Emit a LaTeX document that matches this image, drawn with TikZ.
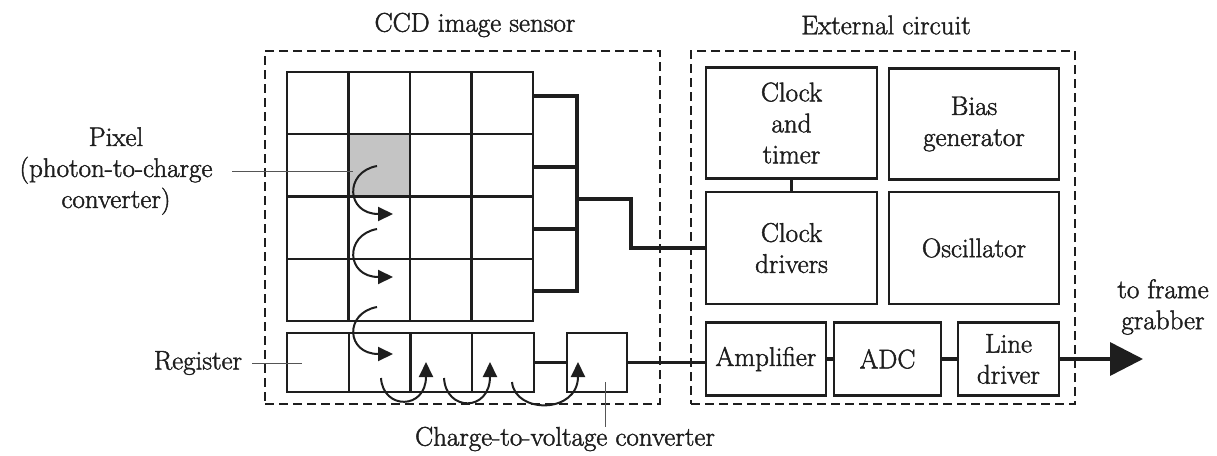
\documentclass[tikz,border=0pt]{standalone}
\usepackage{fontspec}
\setmainfont{Latin Modern Roman}[FakeBold=1.6]
\usetikzlibrary{arrows.meta,calc}
\definecolor{ink}{HTML}{1E1E1E}
\definecolor{pixgray}{HTML}{C4C4C4}
\definecolor{lead}{HTML}{555555}
\begin{document}
\begin{tikzpicture}[x=1pt,y=-1pt,
  every node/.style={font=\fontsize{27}{31}\selectfont, text=ink},
  box/.style={draw=ink, line width=2.2pt, rectangle, align=center, inner sep=0pt},
  cell/.style={draw=ink, line width=2.2pt, minimum width=61.5pt, minimum height=62.25pt, inner sep=0pt},
  rcell/.style={draw=ink, line width=2.2pt, minimum width=61.75pt, minimum height=59pt, inner sep=0pt},
  dbox/.style={draw=ink, line width=2pt, dash pattern=on 9pt off 5pt, inner sep=0pt},
  lbl/.style={align=center, inner sep=0pt},
  bus/.style={draw=ink, line width=3.5pt},
  carr/.style={draw=ink, line width=2pt, -{Triangle[length=15pt,width=14pt]}},
  leader/.style={draw=lead, line width=1pt}]
\useasboundingbox (0,0) rectangle (1217,455);
% dashed enclosures
\node[dbox, minimum width=395pt, minimum height=353pt] (ccdbox) at (462.5,227.5) {};
\node[dbox, minimum width=384pt, minimum height=353pt] (extbox) at (883,227.5) {};
\node[lbl] (t1) at (475,25) {CCD image sensor};
\node[lbl] (t2) at (886,25) {External circuit};
% pixel array
\foreach \i in {1,...,4}{\foreach \j in {1,...,4}{%
  \ifnum\i\j=22 \def\fc{pixgray}\else\def\fc{white}\fi
  \node[cell, fill=\fc] (p\i\j) at ({287+61.5*(\i-0.5)},{72+62.25*(\j-0.5)}) {};
}}
% register
\foreach \i in {1,...,4}{%
  \node[rcell] (r\i) at ({287+61.75*(\i-0.5)},362.5) {};
}
\node[box, minimum width=60pt, minimum height=59pt] (conv) at (597,362.5) {};
% external circuit boxes
\node[box, minimum width=171pt, minimum height=111pt] (ct) at (791.5,123) {Clock\\and\\timer};
\node[box, minimum width=170pt, minimum height=111pt] (bg) at (974,124) {Bias\\generator};
\node[box, minimum width=171pt, minimum height=112pt] (cd) at (791.5,248) {Clock\\drivers};
\node[box, minimum width=170pt, minimum height=112pt] (osc) at (974,248) {Oscillator};
\node[box, minimum width=120pt, minimum height=73pt] (amp) at (766,359) {Amplifier};
\node[box, minimum width=107pt, minimum height=73pt] (adc) at (887.5,359) {ADC};
\node[box, minimum width=101pt, minimum height=73pt] (ld) at (1008.5,359) {Line\\driver};
% bus from the array to the clock drivers
\coordinate (b1) at (577,96);
\coordinate (b4) at (577,291);
\coordinate (bm) at (577,199);
\coordinate (bj) at (631,199);
\draw[bus] (p41.east |- b1) -- (b1) -- (b4) -- (p44.east |- b4);
\draw[bus] (p42.east |- 0,167) -- (577,167);
\draw[bus] (p43.east |- 0,229) -- (577,229);
\draw[bus] (bm) -- (bj) |- (cd.west);
\draw[bus] (ct.south) -- (cd.north);
% signal chain
\draw[bus] (r4.east) -- (conv.west);
\draw[bus] (conv.east) -- (conv.east -| amp.west);
\draw[bus] (amp.east) -- (adc.west);
\draw[bus] (adc.east) -- (ld.west);
\coordinate (out) at (1143,359);
\draw[draw=ink, line width=3.5pt, -{Triangle[length=33pt,width=33pt]}] (ld.east) -- (out);
\node[lbl] (fg) at (1163,307) {to frame\\grabber};
% charge transfer arrows
\draw[carr] (377,166) .. controls (344,172) and (346,214) .. (393,214);
\draw[carr] (377,229) .. controls (344,235) and (346,277) .. (393,277);
\draw[carr] (377,307) .. controls (344,313) and (346,354) .. (393,354);
\draw[carr] (381,378) .. controls (383,410) and (426,410) .. (426,362);
\draw[carr] (444,378) .. controls (446,412) and (490,412) .. (490,362);
\draw[carr] (512,382) .. controls (515,414) and (578,414) .. (578,362);
% labels with leaders
\node[lbl] (pixl) at (116,171) {Pixel\\(photon-to-charge\\converter)};
\coordinate (pixt) at (353,171);
\draw[leader] (232,171) -- (pixt);
\node[lbl] (regl) at (198,363) {Register};
\coordinate (regt) at (302,363);
\draw[leader] ($(regl.east)+(10,0)$) -- (regt);
\node[lbl] (ctv) at (565,439) {Charge-to-voltage converter};
\coordinate (ctvt) at (605,382);
\draw[leader] (ctvt) -- (605,427);
\end{tikzpicture}
\end{document}
